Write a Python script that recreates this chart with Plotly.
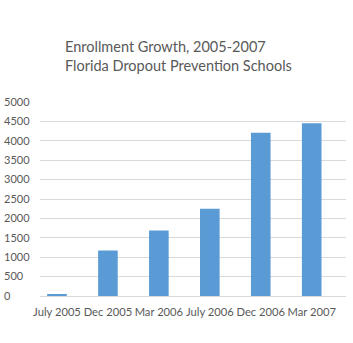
import plotly.graph_objects as go

categories = ["July 2005", "Dec 2005", "Mar 2006", "July 2006", "Dec 2006", "Mar 2007"]
enrollment = [50, 1175, 1690, 2250, 4210, 4450]
y_ticks = [0, 500, 1000, 1500, 2000, 2500, 3000, 3500, 4000, 4500, 5000]

W, H = 353, 343
FONT = "Lato"
GRAY = "#595959"

fig = go.Figure()
fig.add_trace(go.Bar(x=list(range(len(categories))), y=enrollment,
                     marker=dict(color="#5B9BD5", line=dict(width=0)),
                     hoverinfo="skip"))
# invisible trace bound to label axis
fig.add_trace(go.Scatter(x=[0], y=[0], yaxis="y2", mode="markers",
                         marker=dict(opacity=0), showlegend=False, hoverinfo="skip"))

fig.update_layout(
    width=W, height=H,
    margin=dict(l=0, r=7, t=102, b=47),
    paper_bgcolor="white", plot_bgcolor="white",
    showlegend=False,
    bargap=0.615,
    title=dict(text="Enrollment Growth, 2005-2007<br>Florida Dropout Prevention Schools",
               x=65 / W, xanchor="left", xref="container",
               y=1 - 52 / H, yanchor="top", yref="container",
               font=dict(family=FONT, size=14.5, color=GRAY)),
    xaxis=dict(domain=[34 / 346, 1],
               range=[-0.327, 5.673],
               tickmode="array", tickvals=list(range(len(categories))), ticktext=categories,
               showgrid=False, zeroline=False, showline=False, ticks="",
               ticklabelstandoff=8,
               tickfont=dict(family=FONT, size=11.2, color=GRAY)),
    yaxis=dict(range=[0, 5000], tickvals=y_ticks, showticklabels=False,
               showgrid=True, gridcolor="#D9D9D9", gridwidth=1,
               zeroline=True, zerolinecolor="#D9D9D9", zerolinewidth=1,
               showline=False, ticks=""),
    yaxis2=dict(range=[0, 5000], tickvals=y_ticks, overlaying="y",
                anchor="free", position=0, side="left",
                ticklabelposition="inside", ticklabeloverflow="allow",
                ticklabelstandoff=-7,
                showgrid=False, zeroline=False,
                showline=False, ticks="",
                tickfont=dict(family=FONT, size=11, color=GRAY)),
)

fig.write_html("out.html")
